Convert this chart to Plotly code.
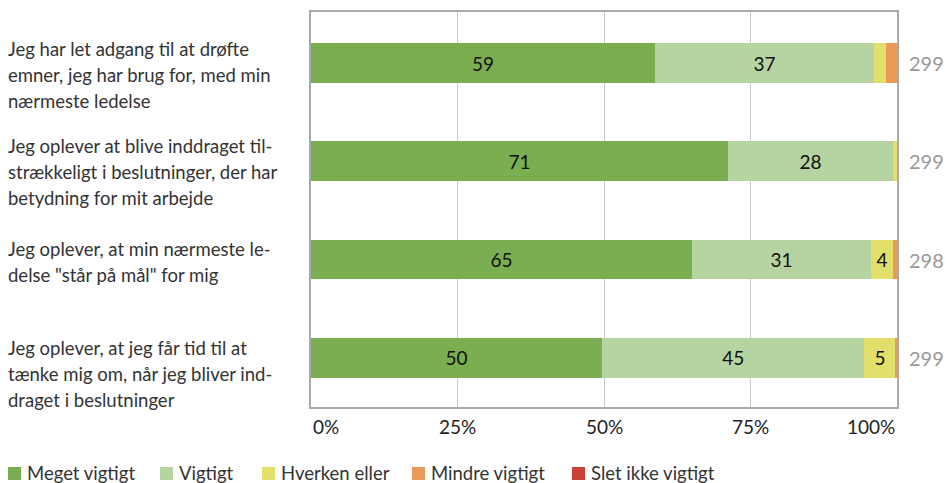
import plotly.graph_objects as go

categories = [
    "Jeg har let adgang til at drøfte<br>emner, jeg har brug for, med min<br>nærmeste ledelse",
    "Jeg oplever at blive inddraget til-<br>strækkeligt i beslutninger, der har<br>betydning for mit arbejde",
    "Jeg oplever, at min nærmeste le-<br>delse \"står på mål\" for mig",
    "Jeg oplever, at jeg får tid til at<br>tænke mig om, når jeg bliver ind-<br>draget i beslutninger",
]
n_values = [299, 299, 298, 299]

series_names = ["Meget vigtigt", "Vigtigt", "Hverken eller", "Mindre vigtigt", "Slet ikke vigtigt"]
meget = [58.7, 71.2, 65.0, 49.7]
vigtigt = [37.4, 28.1, 30.6, 44.7]
hverken = [2.0, 0.7, 3.7, 5.4]
mindre = [1.9, 0.0, 0.7, 0.2]
slet = [0.0, 0.0, 0.0, 0.0]
series_values = [meget, vigtigt, hverken, mindre, slet]
colors = ["#7aae50", "#b6d4a2", "#e2df6a", "#e89c58", "#cc403a"]

tick_vals = [0, 25, 50, 75, 100]
tick_labels = ["0%", "25%", "50%", "75%", "100%"]

FONT = "Lato"
keys = [f"c{i}" for i in range(len(categories))]

W, H = 947, 483
L, R, T, B = 311, 897, 12, 407
def px(x):
    return (x - L) / (R - L)
def py(y):
    return (B - y) / (B - T)

fig = go.Figure()
for name, vals, col in zip(series_names, series_values, colors):
    txt = [str(round(v)) if v >= 3 else "" for v in vals]
    fig.add_trace(go.Bar(
        y=keys, x=vals, name=name, orientation="h",
        marker=dict(color=col, line=dict(width=0)),
        text=txt, textposition="inside", insidetextanchor="middle",
        textfont=dict(color="#111111", size=19, family=FONT),
        width=0.405, hoverinfo="skip", showlegend=False,
    ))

annotations = []
shapes = []
shifts = [12, 11, 2, 16]
for i, (cat, sh) in enumerate(zip(categories, shifts)):
    lines = cat.split("<br>")
    nlines = len(lines)
    for j, ln in enumerate(lines):
        annotations.append(dict(
            x=px(6), xref="paper", y=keys[i], yref="y",
            text=ln, showarrow=False, xanchor="left", yanchor="middle",
            yshift=-(sh + (j - (nlines - 1) / 2) * 26),
            font=dict(size=18.5, color="#333333", family=FONT),
        ))
    annotations.append(dict(
        x=1.0, xref="paper", y=keys[i], yref="y", text=str(n_values[i]),
        showarrow=False, xanchor="left", yanchor="middle", xshift=10,
        font=dict(size=20, color="#999999", family=FONT),
    ))
for v, lab in zip(tick_vals, tick_labels):
    anchor = "left" if v == 0 else ("right" if v == 100 else "center")
    annotations.append(dict(
        x=v, xref="x", y=0, yref="paper", text=lab, showarrow=False,
        xanchor=anchor, yanchor="top", yshift=-6,
        font=dict(size=19, color="#222222", family=FONT),
    ))

# manual legend
legend_x = [8, 160, 262, 412, 572]
for name, col, lx in zip(series_names, colors, legend_x):
    shapes.append(dict(type="rect", xref="paper", yref="paper",
                       x0=px(lx), x1=px(lx + 13), y0=py(480), y1=py(467),
                       fillcolor=col, line=dict(width=0)))
    annotations.append(dict(
        x=px(lx + 17), xref="paper", y=py(472.5), yref="paper", text=name,
        showarrow=False, xanchor="left", yanchor="middle",
        font=dict(size=18.5, color="#333333", family=FONT),
    ))

fig.update_layout(
    width=W, height=H,
    margin=dict(l=L, r=W - R, t=T, b=H - B, autoexpand=False),
    barmode="stack", bargap=0.6,
    plot_bgcolor="white", paper_bgcolor="white",
    font=dict(family=FONT, size=17, color="#333333"),
    xaxis=dict(range=[0, 100], tickvals=tick_vals, showticklabels=False,
               showgrid=True, gridcolor="#c8c8c8", gridwidth=1, zeroline=False,
               showline=True, linecolor="#aaaaaa", linewidth=1.5, mirror=True),
    yaxis=dict(categoryorder="array", categoryarray=keys, autorange="reversed",
               showticklabels=False, showgrid=False, zeroline=False,
               showline=True, linecolor="#aaaaaa", linewidth=1.5, mirror=True),
    annotations=annotations,
    shapes=shapes,
    showlegend=False,
)

fig.write_html("out.html",
               config={"displayModeBar": False},
               post_script="document.body.style.margin='0';document.body.style.overflow='hidden';")
